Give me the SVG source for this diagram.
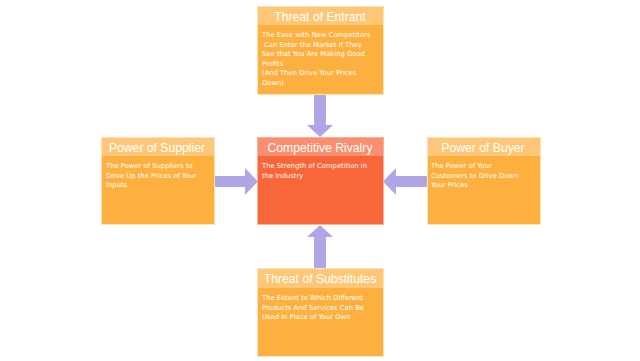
<svg xmlns="http://www.w3.org/2000/svg" width="640" height="361" viewBox="0 0 640 361">
<style>
.body{fill:#FDB03F;stroke:#FCE2B8;stroke-width:1}
.head{fill:#FDC777}
.cbody{fill:#F8663A;stroke:#FAB39A;stroke-width:1}
.chead{fill:#F98F70}
.ht{font-family:"Liberation Sans",Arial,sans-serif;font-size:12.2px;fill:#fff;text-anchor:middle}
.bt{font-family:"DejaVu Sans",Verdana,sans-serif;font-size:6.8px;fill:#fff}
.arr{fill:#B1A5E6}
</style>
<g id="connectors">
<polygon class="arr" points="314,94 326,94 326,125 333,125 320,137 307,125 314,125"/>
<polygon class="arr" points="214,176 245,176 245,168 258,181.5 245,195 245,187 214,187"/>
<polygon class="arr" points="427,176 396,176 396,168 383,181.5 396,195 396,187 427,187"/>
<polygon class="arr" points="314,268 326,268 326,237 333,237 320,225 307,237 314,237"/>
</g>
<g id="entrant">
<rect class="body" x="257.5" y="6.5" width="126" height="88"/>
<rect class="head" x="258" y="7" width="125" height="18"/>
<text class="ht" x="320" y="20.5">Threat of Entrant</text>
<text class="bt" x="262" y="37">The Ease with New Competitors</text>
<text class="bt" x="264" y="46.6">Can Enter the Market if They</text>
<text class="bt" x="262" y="56.2">See that You Are Making Good</text>
<text class="bt" x="262" y="65.8">Profits</text>
<text class="bt" x="262" y="75.4">(And Then Drive Your Prices</text>
<text class="bt" x="262" y="85">Down)</text>
</g>
<g id="supplier">
<rect class="body" x="101.5" y="137.5" width="113" height="87"/>
<rect class="head" x="102" y="138" width="112" height="18"/>
<text class="ht" x="157" y="152">Power of Supplier</text>
<text class="bt" x="106" y="168">The Power of Suppliers to</text>
<text class="bt" x="106" y="177.6">Drive Up the Prices of Your</text>
<text class="bt" x="106" y="187.2">Inputs</text>
</g>
<g id="rivalry">
<rect class="cbody" x="257.5" y="137.5" width="126" height="87"/>
<rect class="chead" x="258" y="138" width="125" height="18"/>
<text class="ht" x="320" y="152">Competitive Rivalry</text>
<text class="bt" x="262" y="168">The Strength of Competition in</text>
<text class="bt" x="262" y="177.6">the Industry</text>
</g>
<g id="buyer">
<rect class="body" x="427.5" y="137.5" width="113" height="87"/>
<rect class="head" x="428" y="138" width="112" height="18"/>
<text class="ht" x="483" y="152">Power of Buyer</text>
<text class="bt" x="431" y="168">The Power of Your</text>
<text class="bt" x="431" y="177.6">Customers to Drive Down</text>
<text class="bt" x="431" y="187.2">Your Prices</text>
</g>
<g id="substitutes">
<rect class="body" x="257.5" y="268.5" width="126" height="88"/>
<rect class="head" x="258" y="269" width="125" height="19"/>
<text class="ht" x="320" y="283">Threat of Substitutes</text>
<text class="bt" x="262" y="300">The Extent to Which Different</text>
<text class="bt" x="262" y="309.6">Products And Services Can Be</text>
<text class="bt" x="262" y="319.2">Used in Place of Your Own</text>
</g>
</svg>
